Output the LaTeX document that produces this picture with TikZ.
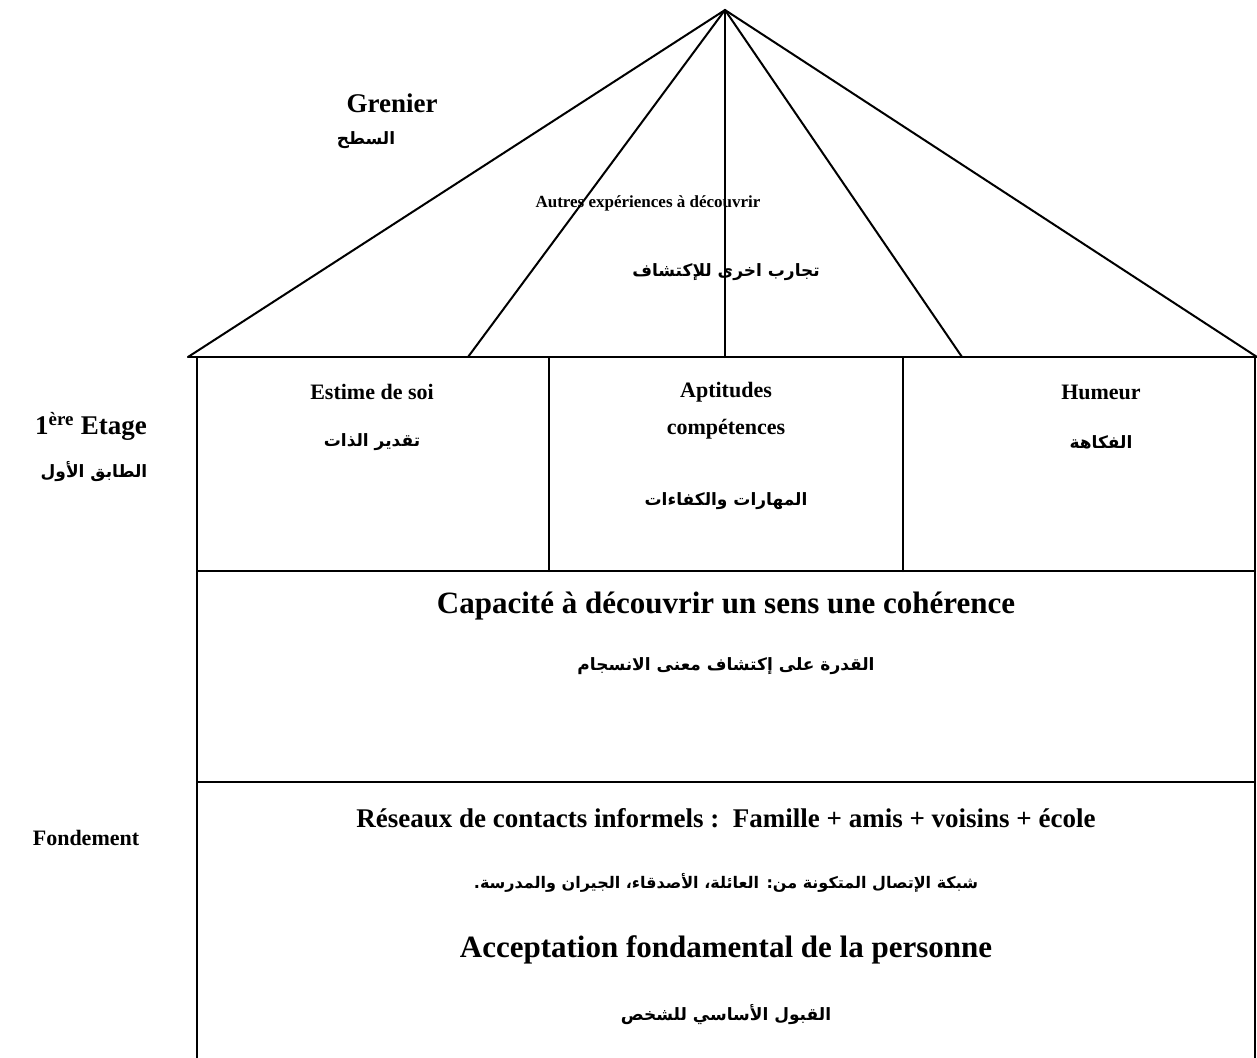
\documentclass[tikz,border=0pt]{standalone}
\usepackage{fontspec}
\setmainfont{Liberation Serif}
\newfontfamily\arabicfont[Script=Arabic]{DejaVu Sans}
\TeXXeTstate=1
\newcommand\arw[1]{\beginR#1\endR}
\begin{document}
\begin{tikzpicture}[x=1pt,y=-1pt,
  wall/.style={line width=2pt,line cap=round,line join=miter},
  fr/.style={font=\fontsize{22}{26}\selectfont\bfseries,inner sep=0pt,anchor=center},
  frs/.style={font=\fontsize{17}{21}\selectfont\bfseries,inner sep=0pt,anchor=center},
  frm/.style={font=\fontsize{27}{31}\selectfont\bfseries,inner sep=0pt,anchor=center},
  frl/.style={font=\fontsize{31}{35}\selectfont\bfseries,inner sep=0pt,anchor=center},
  ar/.style={font=\fontsize{17}{20}\selectfont\arabicfont\bfseries,inner sep=0pt,anchor=center}]
\useasboundingbox (0,0) rectangle (1257,1057);
% geometry
\coordinate (apex) at (725,10);
\coordinate (roofL) at (188,357);
\coordinate (roofR) at (1257,357);
\coordinate (r1) at (468,357);
\coordinate (r2) at (725,357);
\coordinate (r3) at (962,357);
\coordinate (wallLt) at (197,357);
\coordinate (wallLb) at (197,1060);
\coordinate (wallRt) at (1255,357);
\coordinate (wallRb) at (1255,1060);
\coordinate (d1t) at (549,357);
\coordinate (d1b) at (549,571);
\coordinate (d2t) at (903,357);
\coordinate (d2b) at (903,571);
\coordinate (h1L) at (197,571);
\coordinate (h1R) at (1255,571);
\coordinate (h2L) at (197,782);
\coordinate (h2R) at (1255,782);
% roof
\draw[wall] (roofL) -- (apex) -- (roofR);
\draw[wall] (apex) -- (r1);
\draw[wall] (apex) -- (r2);
\draw[wall] (apex) -- (r3);
\draw[wall] (roofL) -- (roofR);
% walls
\draw[wall] (wallLt) -- (wallLb);
\draw[wall] (wallRt) -- (wallRb);
\draw[wall] (d1t) -- (d1b);
\draw[wall] (d2t) -- (d2b);
\draw[wall] (h1L) -- (h1R);
\draw[wall] (h2L) -- (h2R);
% texts
\node[frm] (grenier) at (392,103) {Grenier};
\node[ar] (grenierar) at (366,140) {\arw{السطح}};
\node[frs] (autres) at (648,203) {Autres expériences à découvrir};
\node[ar] (autresar) at (726,272) {\arw{تجارب اخرى للإكتشاف}};
\node[fr] (estime) at (372,392) {Estime de soi};
\node[ar] (estimear) at (372,442) {\arw{تقدير الذات}};
\node[fr] (apt) at (726,392) {Aptitudes};
\node[fr] (comp) at (726,429) {compétences};
\node[ar] (aptar) at (726,501) {\arw{المهارات والكفاءات}};
\node[fr] (humeur) at (1101,392) {Humeur};
\node[ar] (humeurar) at (1101,442) {\arw{الفكاهة}};
\node[frm] (etage) at (91,426) {1\textsuperscript{ère} Etage};
\node[ar] (etagear) at (94,472) {\arw{الطابق الأول}};
\node[frl] (capacite) at (726,606) {Capacité à découvrir un sens une cohérence};
\node[ar] (capacitear) at (726,666) {\arw{القدرة على إكتشاف معنى الانسجام}};
\node[fr] (fond) at (86,838) {Fondement};
\node[frm] (reseaux) at (726,818) {Réseaux de contacts informels :\ \ Famille + amis + voisins + école};
\node[ar,font=\fontsize{16}{19}\selectfont\arabicfont\bfseries] (reseauxar) at (726,883) {\arw{شبكة الإتصال المتكونة من: العائلة، الأصدقاء، الجيران والمدرسة.}};
\node[frl] (accept) at (726,950) {Acceptation fondamental de la personne};
\node[ar] (acceptar) at (726,1015) {\arw{القبول الأساسي للشخص}};
\end{tikzpicture}
\end{document}
